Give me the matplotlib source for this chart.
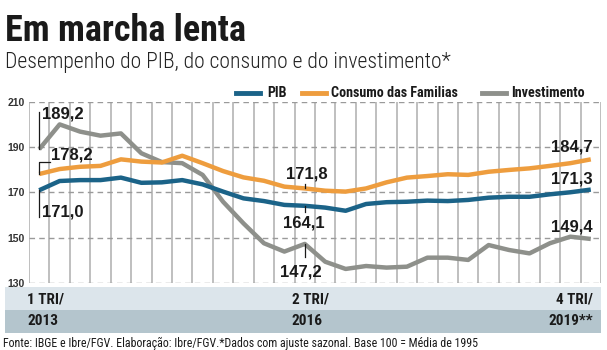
import matplotlib
matplotlib.use('Agg')
import numpy as np
import matplotlib.pyplot as plt
from matplotlib.lines import Line2D
from matplotlib.patches import Rectangle

# quarters 1T2013 .. 4T2019
quarters = np.arange(28)
pib = [171.0, 175.1, 175.5, 175.5, 176.6, 174.3, 174.5, 175.5, 173.6, 170.4,
       167.4, 166.2, 164.5, 164.1, 163.3, 161.9, 164.9, 165.7, 165.9, 166.4,
       166.2, 166.7, 167.7, 168.1, 168.1, 169.2, 170.1, 171.3]
consumo = [178.2, 180.4, 181.4, 181.8, 184.7, 183.7, 183.3, 186.3, 183.0, 179.5,
           176.7, 175.2, 172.6, 171.8, 170.8, 170.4, 171.8, 174.5, 176.6, 177.3,
           178.1, 177.8, 179.2, 180.0, 180.7, 181.8, 183.0, 184.7]
investimento = [189.2, 200.2, 197.0, 195.2, 196.2, 187.4, 183.5, 183.0, 177.8, 165.9,
                156.3, 147.5, 143.8, 147.2, 139.3, 136.1, 137.4, 136.7, 137.1, 141.1,
                141.1, 140.1, 146.7, 144.5, 143.0, 147.5, 150.4, 149.4]
yticks = [130, 150, 170, 190, 210]
band_top = ['1 TRI/', '2 TRI/', '4 TRI/']
band_bottom = ['2013', '2016', '2019**']

c_pib = '#1b6388'
c_cons = '#ee9d3e'
c_inv = '#8e908b'
dark = '#1a1a1a'

# condensed fonts, first installed one wins
narrow = ['Roboto Condensed', 'Fira Sans Condensed', 'Barlow Condensed',
          'Archivo Narrow', 'Sofia Sans Condensed', 'DejaVu Sans']
plain = ['Liberation Sans', 'DejaVu Sans']

W, H = 607, 350
fig = plt.figure(figsize=(W / 100, H / 100), dpi=100)
ax = fig.add_axes([29 / W, 1 - 282.7 / H, 572 / W, 180.4 / H])

ax.plot(quarters, investimento, color=c_inv, lw=3.2, solid_capstyle='butt', zorder=3)
ax.plot(quarters, consumo, color=c_cons, lw=3.2, solid_capstyle='butt', zorder=4)
ax.plot(quarters, pib, color=c_pib, lw=3.2, solid_capstyle='butt', zorder=5)

ax.set_xlim(-0.5, 27.5)
ax.set_ylim(130, 210)
ax.set_xticks(np.arange(-0.5, 28, 1))
ax.set_yticks(yticks)
ax.xaxis.grid(True, color='#b4b4b4', lw=1.2, ls='-')
ax.yaxis.grid(True, color='#9a9a9a', lw=1.0, ls=(0, (4, 3)))
ax.set_axisbelow(True)
ax.tick_params(axis='x', length=0, labelbottom=False)
ax.tick_params(axis='y', length=0, pad=3, labelsize=7.5, labelcolor='#333333')
for lab in ax.get_yticklabels():
    lab.set_family(plain)
    lab.set_fontweight('bold')
for s in ax.spines.values():
    s.set_visible(False)

# value labels
lab_kw = dict(fontsize=12, family=plain, fontweight='bold', color=dark, zorder=6)
lk = dict(color=dark, lw=0.9, zorder=6)
# first quarter
ax.plot([0, 0], [investimento[0], investimento[0] + 16.5], **lk)
ax.text(0.13, investimento[0] + 15.6, '189,2', ha='left', va='center', **lab_kw)
ax.plot([0, 0, 0.54], [consumo[0], consumo[0] + 5.4, consumo[0] + 5.4], **lk)
ax.text(0.56, consumo[0] + 8.4, '178,2', ha='left', va='center', **lab_kw)
ax.plot([0, 0], [pib[0], pib[0] - 11.7], **lk)
ax.text(0.13, pib[0] - 9.5, '171,0', ha='left', va='center', **lab_kw)
# 2T2016
i = 13
ax.plot([i, i], [consumo[i], consumo[i] + 2.0], **lk)
ax.text(i + 0.1, consumo[i] + 6.4, '171,8', ha='center', va='center', **lab_kw)
ax.plot([i, i], [pib[i], pib[i] - 2.6], **lk)
ax.text(i - 0.05, pib[i] - 7.6, '164,1', ha='center', va='center', **lab_kw)
ax.plot([i, i], [investimento[i], investimento[i] - 5.7], **lk)
ax.text(i - 0.2, investimento[i] - 12.3, '147,2', ha='center', va='center', **lab_kw)
# 4T2019
ax.text(27.1, consumo[-1] + 5.3, '184,7', ha='right', va='center', **lab_kw)
ax.text(27.1, pib[-1] + 4.6, '171,3', ha='right', va='center', **lab_kw)
ax.text(27.1, investimento[-1] + 5.2, '149,4', ha='right', va='center', **lab_kw)

# bands under the chart
fig.add_artist(Rectangle((5 / W, 1 - 310 / H), 596 / W, 23 / H, transform=fig.transFigure,
                         color='#dce5eb', lw=0))
fig.add_artist(Rectangle((5 / W, 1 - 333 / H), 596 / W, 23 / H, transform=fig.transFigure,
                         color='#b4c5cd', lw=0))
band_kw = dict(fontsize=11, family=narrow, fontweight='bold', color=dark, va='center')
xs = [(27 / W, 'left'), (292 / W, 'left'), (593 / W, 'right')]
for (x, ha), t1, t2 in zip(xs, band_top, band_bottom):
    fig.text(x, 1 - 299 / H, t1, ha=ha, **band_kw)
    fig.text(x, 1 - 321 / H, t2, ha=ha, **band_kw)

# title, subtitle
fig.text(5 / W, 1 - 41 / H, 'Em marcha lenta', fontsize=26, family=narrow,
         fontweight='heavy', color=dark, va='baseline')
fig.text(5 / W, 1 - 68 / H, 'Desempenho do PIB, do consumo e do investimento*',
         fontsize=15.6, family=narrow, fontweight='light', color='#222222', va='baseline')

# legend
leg = [(236, 267, c_pib, 'PIB'), (302, 331, c_cons, 'Consumo das Familias'),
       (482, 511, c_inv, 'Investimento')]
for x0, xt, c, t in leg:
    fig.add_artist(Line2D([x0 / W, (x0 + 24) / W], [1 - 93 / H, 1 - 93 / H],
                          color=c, lw=3.5, transform=fig.transFigure))
    fig.text(xt / W, 1 - 93 / H, t, fontsize=10.2, family=narrow, fontweight='bold',
             color=dark, va='center')

fig.text(3 / W, 1 - 343 / H,
         'Fonte: IBGE e Ibre/FGV. Elaboração: Ibre/FGV.*Dados com ajuste sazonal. Base 100 = Média de 1995',
         fontsize=8.6, family=narrow, color=dark, va='center')

fig.savefig('out.png', dpi=100, facecolor='white')
